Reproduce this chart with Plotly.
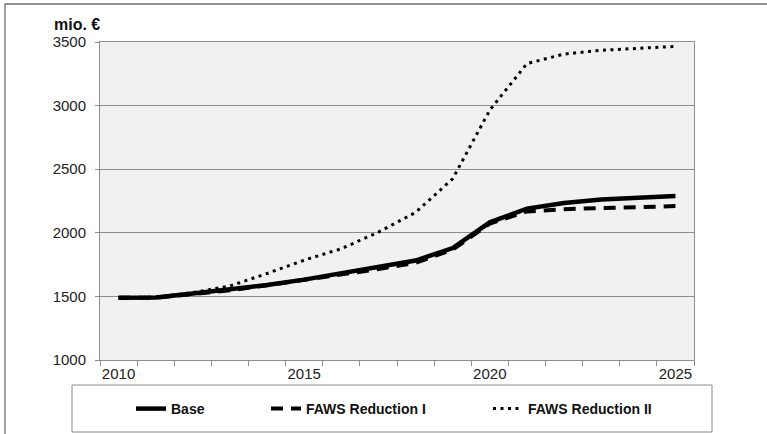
import plotly.graph_objects as go

# data (mio. EUR)
years = list(range(2010, 2026))
base = [1490, 1492, 1522, 1553, 1590, 1632, 1680, 1725, 1782, 1880, 2082, 2190, 2235, 2262, 2278, 2290]
faws_1 = [1490, 1490, 1518, 1548, 1588, 1628, 1675, 1715, 1765, 1868, 2072, 2168, 2186, 2196, 2204, 2210]
faws_2 = [1490, 1493, 1530, 1582, 1680, 1785, 1875, 2005, 2160, 2425, 2965, 3330, 3405, 3435, 3450, 3465]
y_ticks = [1000, 1500, 2000, 2500, 3000, 3500]
x_labels = [2010, 2015, 2020, 2025]

W, H = 767, 434
FONT = "Liberation Sans, Arial, sans-serif"
GRID = "#8f8f8f"

fig = go.Figure()
fig.add_trace(go.Scatter(x=years, y=base, mode="lines", name="Base",
                         line=dict(color="#000000", width=4.5), legend="legend"))
fig.add_trace(go.Scatter(x=years, y=faws_1, mode="lines", name="FAWS Reduction I",
                         line=dict(color="#000000", width=4, dash="12px,8px"), legend="legend2"))
fig.add_trace(go.Scatter(x=years, y=faws_2, mode="lines", name="FAWS Reduction II",
                         line=dict(color="#000000", width=3, dash="3px,4.5px"), legend="legend3"))

leg_font = dict(family=FONT, size=14, color="#111111", weight="bold")


def leg(px):
    return dict(x=px / W, y=1 - 409 / H, xref="container", yref="container",
                xanchor="left", yanchor="middle", orientation="h",
                bgcolor="rgba(0,0,0,0)", borderwidth=0, font=leg_font)


fig.update_layout(
    width=W, height=H,
    margin=dict(l=100, r=73, t=42, b=74),
    paper_bgcolor="white", plot_bgcolor="#f1f1f1",
    font=dict(family=FONT, size=15, color="#222222"),
    showlegend=True,
    legend=leg(131), legend2=leg(266), legend3=leg(488),
    xaxis=dict(range=[2009.5, 2025.5], tickvals=x_labels, ticks="", showgrid=False,
               showline=True, linecolor=GRID, linewidth=1, mirror=True, zeroline=False,
               minor=dict(tick0=2009.5, dtick=1, ticks="outside", ticklen=5,
                          tickcolor=GRID, showgrid=False),
               tickfont=dict(size=15)),
    yaxis=dict(range=[1000, 3500], tickvals=y_ticks, ticks="outside", ticklen=4,
               tickcolor=GRID, showgrid=True, gridcolor=GRID, gridwidth=1,
               showline=True, linecolor=GRID, linewidth=1, mirror=True, zeroline=False,
               ticklabelstandoff=6, tickfont=dict(size=15)),
    annotations=[dict(text="<b>mio. €</b>", xref="paper", yref="paper",
                      x=-48 / 594, y=1 + 17 / 318, xanchor="left", yanchor="middle",
                      showarrow=False, font=dict(family=FONT, size=16, color="#111111"))],
    shapes=[
        # outer frame (only left and top edges visible)
        dict(type="rect", xref="paper", yref="paper",
             x0=(5 - 100) / 594, x1=(800 - 100) / 594,
             y0=(360 - 470) / 318, y1=(360 - 4) / 318,
             line=dict(color="#6e6e6e", width=1.3), fillcolor="rgba(0,0,0,0)", layer="below"),
        # legend box
        dict(type="rect", xref="paper", yref="paper",
             x0=(72 - 100) / 594, x1=(712 - 100) / 594,
             y0=(360 - 432) / 318, y1=(360 - 385) / 318,
             line=dict(color="#8a8a8a", width=1), fillcolor="white", layer="below"),
    ],
)

# drop the default page margin so the figure sits at the window's top-left corner
fig.write_html("out.html", config={"displayModeBar": False},
               post_script="document.body.style.margin='0';")
